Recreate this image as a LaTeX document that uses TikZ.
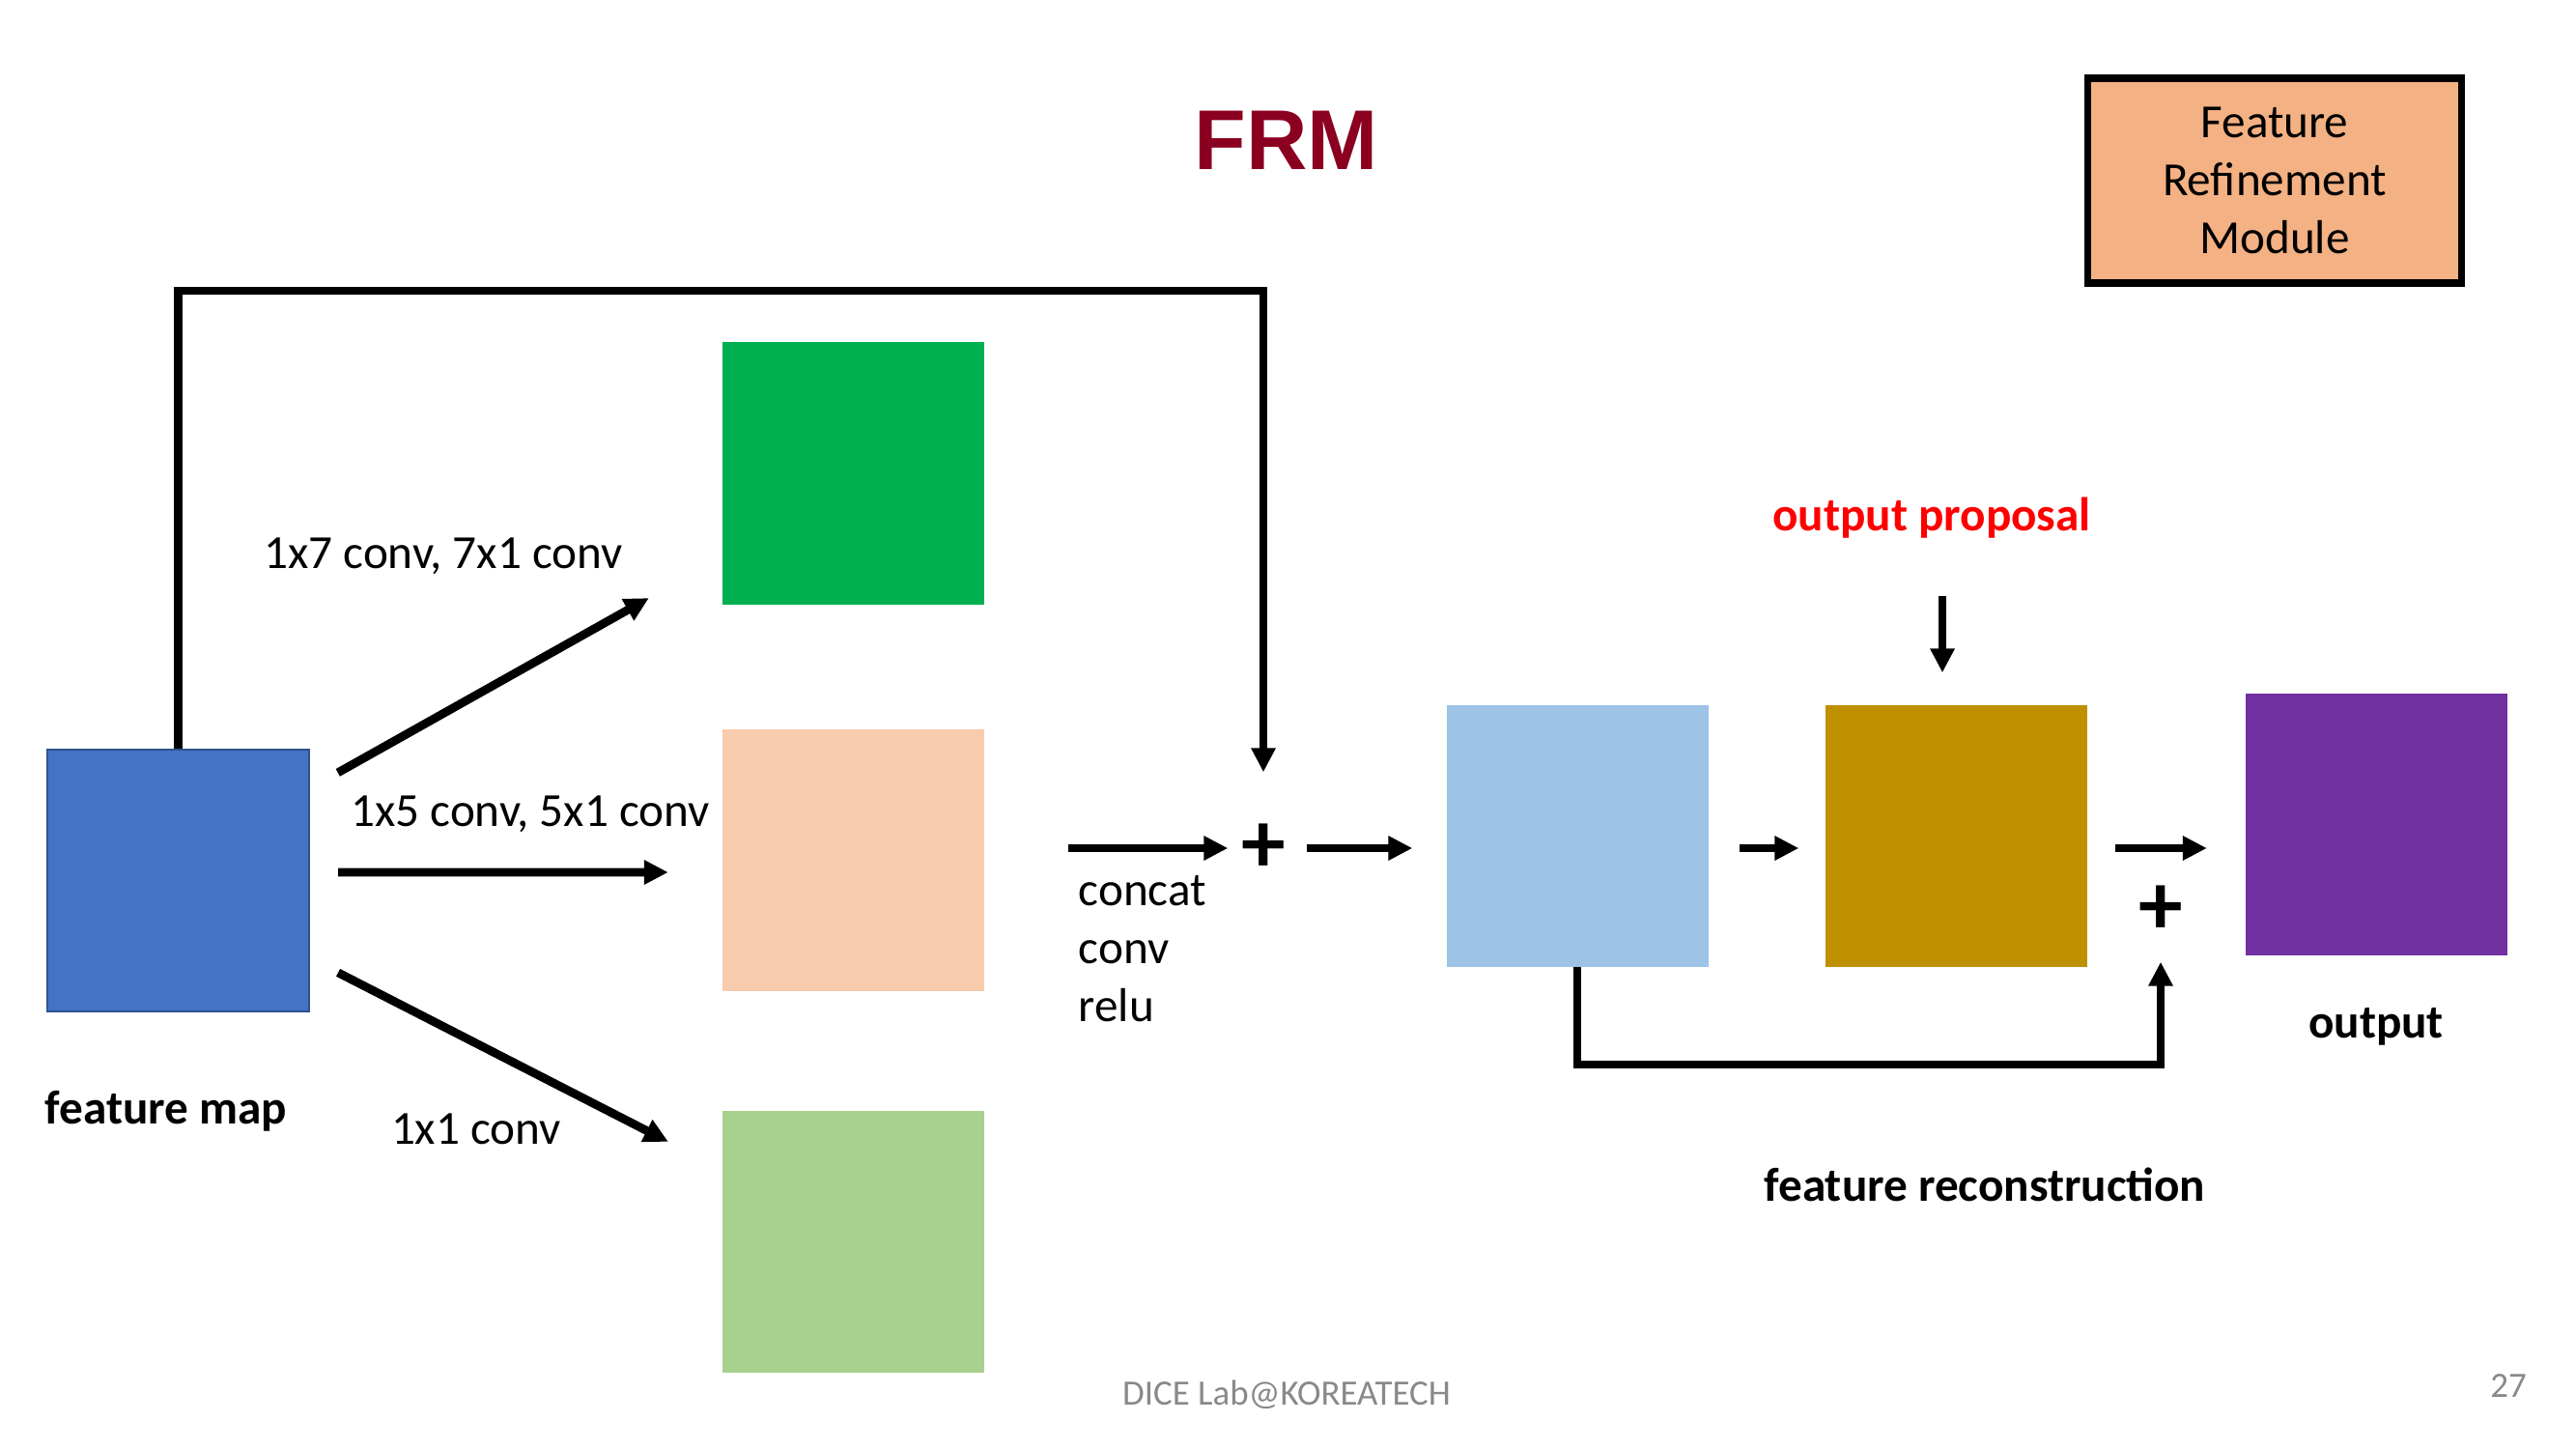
\documentclass[tikz,border=0pt]{standalone}
\usepackage{fontspec}
\setmainfont{Carlito}
\newfontfamily\titlefont{Liberation Sans}
\usepackage{xcolor}
\usetikzlibrary{arrows.meta}

\definecolor{frmred}{RGB}{139,0,32}
\definecolor{fmapblue}{RGB}{68,114,196}
\definecolor{fmapedge}{RGB}{47,82,143}
\definecolor{convgreen}{RGB}{0,176,80}
\definecolor{convpeach}{RGB}{248,203,173}
\definecolor{convlight}{RGB}{169,209,142}
\definecolor{catblue}{RGB}{157,195,230}
\definecolor{propgold}{RGB}{191,144,0}
\definecolor{outpurple}{RGB}{112,48,160}
\definecolor{frmorange}{RGB}{244,177,131}
\definecolor{footgray}{RGB}{137,137,137}

\begin{document}
\begin{tikzpicture}[>={Triangle[length=0.25cm,width=0.24cm]},
  box/.style={minimum width=2.71cm,minimum height=2.71cm,inner sep=0pt,fill=#1},
  lbl/.style={inner sep=0pt,font=\fontsize{14}{17}\selectfont},
  blbl/.style={inner sep=0pt,font=\fontsize{14}{17}\selectfont\bfseries},
  plus/.style={minimum size=0.72cm,inner sep=0pt,font=\fontsize{26}{26}\selectfont\bfseries},
  arr/.style={->,line width=2.5pt}]
\useasboundingbox (0,0) rectangle (26.67,15);

\node[inner sep=0pt,text=frmred,font=\titlefont\fontsize{25}{25}\selectfont\bfseries] (title) at (13.32,13.55) {FRM};
\node[draw,line width=2pt,fill=frmorange,minimum width=3.87cm,minimum height=2.12cm,align=center,
      font=\fontsize{14}{17}\selectfont] (frmbox) at (23.55,13.13) {Feature\\Refinement\\Module};

% feature maps
\node[box=fmapblue,draw=fmapedge,line width=0.6pt] (fmap) at (1.845,5.885) {};
\node[box=convgreen] (b7) at (8.83,10.10) {};
\node[box=convpeach] (b5) at (8.83,6.10) {};
\node[box=convlight] (b1) at (8.83,2.15) {};
\node[box=catblue] (cat) at (16.33,6.35) {};
\node[box=propgold] (prop) at (20.25,6.35) {};
\node[box=outpurple] (out) at (24.60,6.47) {};

\node[plus] (p1) at (13.08,6.22) {+};
\node[plus] (p2) at (22.37,5.58) {+};
\coordinate (looptop) at (13.08,11.99);
\coordinate (fbcorner) at (22.37,3.98);

\node[lbl] (lab7) at (4.59,9.24) {1x7 conv, 7x1 conv};
\node[lbl] (lab5) at (5.49,6.57) {1x5 conv, 5x1 conv};
\node[lbl] (lab1) at (4.93,3.31) {1x1 conv};
\node[blbl] (fmlbl) at (1.72,3.50) {feature map};
\node[lbl,anchor=west,align=left] (catlbl) at (11.16,5.18) {concat\\conv\\relu};
\node[blbl,text=red] (outprop) at (20.00,9.64) {output proposal};
\node[blbl] (outlbl) at (24.60,4.37) {output};
\node[blbl] (reclbl) at (20.55,2.74) {feature reconstruction};

\node[inner sep=0pt,text=footgray,font=\fontsize{10.5}{12}\selectfont] (foot) at (13.32,0.56) {DICE Lab@KOREATECH};
\node[inner sep=0pt,text=footgray,font=\fontsize{10.5}{12}\selectfont] (page) at (25.97,0.65) {27};

\draw[arr,shorten >=0.42cm] (fmap.north) |- (looptop) -- (p1);
\draw[arr,shorten <=0.33cm,shorten >=0.86cm] ([yshift=0.955cm]fmap.east) -- ([yshift=-0.87cm]b7.west);
\draw[arr,shorten <=0.29cm,shorten >=0.55cm] ([yshift=0.085cm]fmap.east) -- ([yshift=-0.13cm]b5.west);
\draw[arr,shorten <=0.326cm,shorten >=0.617cm] ([yshift=-0.805cm]fmap.east) -- ([yshift=0.75cm]b1.west);
\draw[arr,shorten <=0.87cm] (b5.east |- p1) -- (p1);
\draw[arr,shorten <=0.08cm,shorten >=0.345cm] (p1) -- (p1 -| cat.west);
\draw[arr,shorten <=0.315cm,shorten >=0.265cm] ([yshift=-0.13cm]cat.east) -- ([yshift=-0.13cm]prop.west);
\draw[arr,shorten <=0.285cm,shorten >=0.39cm] ([yshift=-0.13cm]prop.east) -- ([yshift=-0.25cm]out.west);
\draw[arr,shorten <=0.59cm,shorten >=0.325cm] ([xshift=0.11cm]outprop.south) -- ([xshift=-0.14cm]prop.north);
\draw[arr,shorten >=0.17cm] (cat.south) |- (fbcorner) -- (p2);
\end{tikzpicture}
\end{document}
